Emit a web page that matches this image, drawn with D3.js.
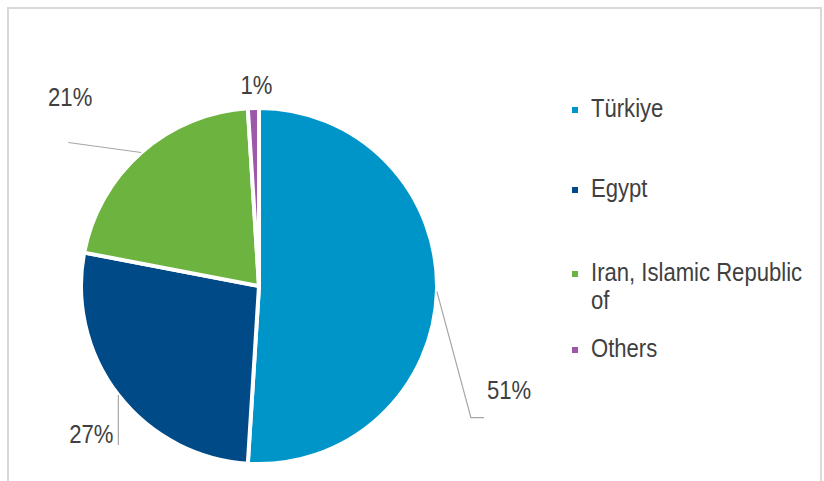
<!DOCTYPE html>
<html>
<head>
<meta charset="utf-8">
<script src="https://cdn.jsdelivr.net/npm/d3@7"></script>
<style>
  html, body { margin: 0; padding: 0; background: #ffffff; }
  svg { display: block; }
  text { font-family: "Liberation Sans Narrow", "Arial Narrow", "Liberation Sans", sans-serif; fill: #404040; }
</style>
</head>
<body>
<svg id="chart" width="824" height="481"></svg>
<script>
// Share of imports by partner (%)
const categories = ["Türkiye", "Egypt", "Iran, Islamic Republic of", "Others"];
const shares = [51, 27, 21, 1];
const legendLines = [["Türkiye"], ["Egypt"], ["Iran, Islamic Republic", "of"], ["Others"]];
const colors = ["#0095c9", "#004a87", "#6cb33f", "#9b59a7"];

// Leader-line bend and label placement, as offsets from the slice's outer midpoint
const labelLayout = [
  { path: [[34, 126], [47, 126]], text: [50, 107], anchor: "start" },
  { path: [[0, 50]], text: [-5, 48], anchor: "end" },
  { path: [[-73, -10]], text: [-49, -46], anchor: "end" },
  { path: [], text: [3, -14], anchor: "middle" }
];

const W = 824, H = 481;
const cx = 259, cy = 286, R = 178;
const FONT = 26, SQUEEZE = 0.85; // condensed lettering

const svg = d3.select("#chart");

// condensed text helper
function condText(sel, x, y, str, anchor) {
  return sel.append("text")
    .attr("transform", `translate(${x},${y}) scale(${SQUEEZE},1)`)
    .attr("text-anchor", anchor || "start")
    .attr("font-size", FONT)
    .text(str);
}

// panel frame
svg.append("rect")
  .attr("x", 8).attr("y", 8).attr("width", 813).attr("height", 490)
  .attr("fill", "#ffffff").attr("stroke", "#d9d9d9").attr("stroke-width", 2);

const pie = d3.pie().sort(null).value(d => d)(shares);
const arc = d3.arc().innerRadius(0).outerRadius(R);
const color = d3.scaleOrdinal().domain(categories).range(colors);

const g = svg.append("g").attr("transform", `translate(${cx},${cy})`);

g.selectAll("path.slice")
  .data(pie)
  .join("path")
  .attr("class", "slice")
  .attr("d", arc)
  .attr("fill", (d, i) => color(categories[i]))
  .attr("stroke", "#ffffff")
  .attr("stroke-width", 4)
  .attr("stroke-linejoin", "round");

// data labels with leader lines
pie.forEach((d, i) => {
  const mid = (d.startAngle + d.endAngle) / 2;
  const ex = R * Math.sin(mid), ey = -R * Math.cos(mid);
  const L = labelLayout[i];
  if (L.path.length) {
    const pts = [[ex, ey]].concat(L.path.map(p => [ex + p[0], ey + p[1]]));
    g.append("path")
      .attr("d", d3.line()(pts))
      .attr("fill", "none")
      .attr("stroke", "#a6a6a6")
      .attr("stroke-width", 1.2);
  }
  condText(g, ex + L.text[0], ey + L.text[1], d3.format("d")(d.data) + "%", L.anchor);
});

// legend
const legendTop = [117, 197, 281, 357];
const legend = svg.append("g").attr("transform", "translate(572,0)");
legendLines.forEach((lines, i) => {
  const row = legend.append("g").attr("transform", `translate(0,${legendTop[i]})`);
  row.append("rect")
    .attr("x", 0).attr("y", -10).attr("width", 6).attr("height", 6)
    .attr("fill", color(categories[i]));
  lines.forEach((t, j) => condText(row, 19, j * 28, t, "start"));
});
</script>
</body>
</html>
